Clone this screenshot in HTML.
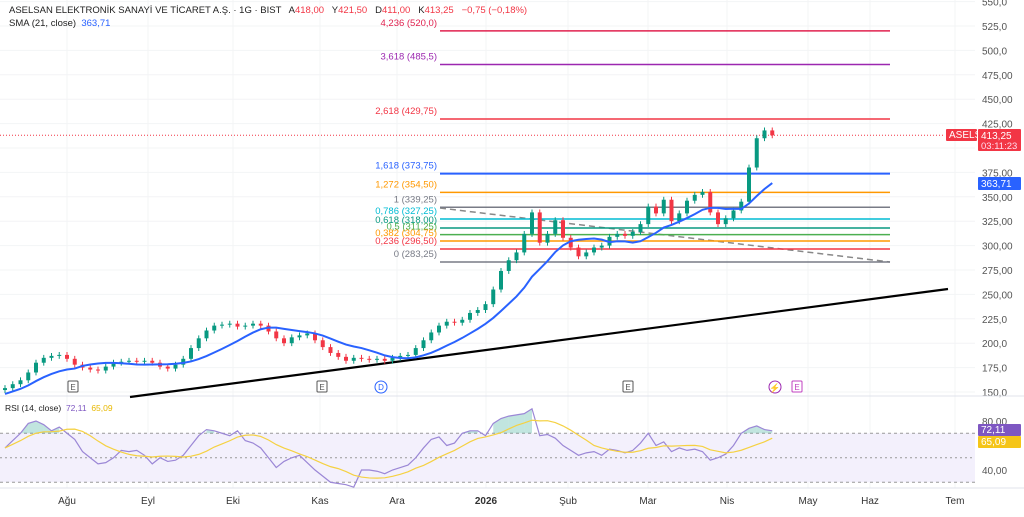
<!DOCTYPE html>
<html><head><meta charset="utf-8"><style>
body{margin:0;width:1024px;height:517px;background:#fff;overflow:hidden;font-family:"Liberation Sans",sans-serif}
svg{position:absolute;left:0;top:0}
text{font-family:"Liberation Sans",sans-serif;white-space:pre}
</style></head><body>
<svg id="c" width="1024" height="517"></svg>
<script>
const closes=[154,158,162,170,180,185,187,188,184,178,175,173,172,176,180,181,182,181,182,180,176,174,178,184,195,205,213,218,219,220,217,218,220,218,212,205,200,206,208,210,203,196,190,186,182,185,184,183,184,182,185,187,188,195,203,211,218,222,221,224,231,234,240,255,274,285,293,312,334,303,312,326,308,298,289,293,298,300,309,312,310,314,322,340,333,347,325,333,346,352,355,334,322,328,336,345,380,410,418,413];
const rsiVals=[58,64,70,78,80,77,72,75,70,65,55,50,45,46,50,56,55,56,52,45,50,47,48,52,60,68,73,72,70,68,72,64,62,58,50,42,47,50,52,46,40,35,30,29,28,26,40,40,39,37,40,42,44,50,58,65,67,60,62,70,72,72,68,78,82,84,85,86,90,68,69,66,60,56,52,54,55,52,57,56,54,56,62,70,60,63,55,58,56,57,55,48,50,53,60,70,74,76,73,72];
const fibLevels=["4,236","3,618","2,618","1,618","1,272","1","0,786","0,618","0,5","0,382","0,236","0"];
const fibPrices=[520,485.5,429.75,373.75,354.5,339.25,327.25,318,311.25,304.75,296.5,283.25];
const fibColors=["#e0224f","#9c27b0","#f23645","#2962ff","#ff9800","#787b86","#00bcd4","#089981","#4caf50","#ff9800","#f23645","#787b86"];
const priceTicks=[150,175,200,225,250,275,300,325,350,375,400,425,450,475,500,525,550];
const timeLabels=["Ağu","Eyl","Eki","Kas","Ara","2026","Şub","Mar","Nis","May","Haz","Tem"];
const timeX=[67,148,233,320,397,486,568,648,727,808,870,955];
const rsiTicks=[80,40];
const NS="http://www.w3.org/2000/svg";
const svg=document.getElementById('c');
const y=p=>392-(p-150)*0.976;
const x=i=>5+i*7.75;
const ry=v=>421+(80-v)*1.225;
function el(t,a,par){const e=document.createElementNS(NS,t);for(const k in a)e.setAttribute(k,a[k]);(par||svg).appendChild(e);return e;}
function fmt(v){return v.toFixed(2).replace('.',',');}
priceTicks.forEach(p=>{const l=el('line',{x1:0,x2:975,y1:y(p),y2:y(p),stroke:'#f3f4f6'});
if(p===400)return;
const t=el('text',{x:982,y:y(p)+4,'font-size':10,fill:'#555'});t.textContent=(p<250||p>475?p.toFixed(1):p.toFixed(2)).replace('.',',');});
timeX.forEach((tx,i)=>{const l=el('line',{x1:tx,x2:tx,y1:0,y2:488,stroke:'#f3f4f6'});
const t=el('text',{x:tx,y:504,'font-size':10,fill:'#333','text-anchor':'middle','font-weight':timeLabels[i]==='2026'?'bold':'normal'});t.textContent=timeLabels[i];});
el('line',{x1:0,x2:1024,y1:396,y2:396,stroke:'#e0e3eb'});
el('line',{x1:0,x2:1024,y1:488,y2:488,stroke:'#e0e3eb'});
const tl=el('line',{x1:130,y1:397,x2:948,y2:289,stroke:'#000','stroke-width':2.2});
const dl=el('line',{x1:440,y1:208,x2:890,y2:262,stroke:'#888','stroke-width':1.5,'stroke-dasharray':'6,4'});
fibPrices.forEach((p,i)=>{const l=el('line',{x1:440,x2:890,y1:y(p),y2:y(p),stroke:fibColors[i],'stroke-width':i==3?2:1.5});
const t=el('text',{x:437,y:y(p)-5,'font-size':9.5,fill:fibColors[i],'text-anchor':'end'});let ps=p.toFixed(2).replace('.',',');if(i<2)ps=p.toFixed(1).replace('.',',');t.textContent=fibLevels[i]+' ('+ps+')';});
el('line',{x1:0,x2:945,y1:y(closes[closes.length-1]),y2:y(closes[closes.length-1]),stroke:'#f23645','stroke-dasharray':'1,2'});
closes.forEach((c,i)=>{const o=i?closes[i-1]:c-2;const up=c>=o;const col=up?'#089981':'#f23645';
const hi=Math.max(o,c)+3,lo=Math.min(o,c)-3;
const w=el('line',{x1:x(i),x2:x(i),y1:y(hi),y2:y(lo),stroke:col});
const b=el('rect',{x:x(i)-2,y:y(Math.max(o,c)),width:4,height:Math.max(1,Math.abs(y(o)-y(c))),fill:col});});
const N=10;let pts=[];closes.forEach((c,i)=>{const s=closes.slice(Math.max(0,i-N+1),i+1);let a=s.reduce((m,v)=>m+v,0)/s.length;if(i<N)a-=(N-i)*0.6;pts.push(x(i)+','+y(a));});
const sma=el('polyline',{points:pts.join(' '),fill:'none',stroke:'#2962ff','stroke-width':2});
[[73,'E','#555'],[322,'E','#555'],[628,'E','#555'],[797,'E','#c040c0']].forEach(m=>{const r=el('rect',{x:m[0]-5,y:381,width:10,height:11,fill:'#fff',stroke:m[2],rx:1});const t=el('text',{x:m[0],y:390,'font-size':8,fill:m[2],'text-anchor':'middle'});t.textContent=m[1];});
el('circle',{cx:381,cy:387,r:6,fill:'#fff',stroke:'#2962ff'});const dt=el('text',{x:381,y:390,'font-size':8,fill:'#2962ff','text-anchor':'middle'});dt.textContent='D';
el('circle',{cx:775,cy:387,r:6,fill:'#fff',stroke:'#9c27b0'});const lt=el('text',{x:775,y:391,'font-size':9,fill:'#9c27b0','text-anchor':'middle'});lt.textContent='⚡';
el('rect',{x:0,y:ry(70),width:975,height:ry(30)-ry(70),fill:'#f3f0fc'});
[70,50,30].forEach(v=>el('line',{x1:0,x2:975,y1:ry(v),y2:ry(v),stroke:'#999','stroke-dasharray':v==50?'2,3':'3,3'}));
rsiTicks.forEach(v=>{const t=el('text',{x:982,y:ry(v)+4,'font-size':10,fill:'#555'});t.textContent=fmt(v);});
for(let i=1;i<rsiVals.length;i++){if(rsiVals[i]>70&&rsiVals[i-1]>68){el('polygon',{points:`${x(i-1)},${ry(Math.max(70,rsiVals[i-1]))} ${x(i)},${ry(rsiVals[i])} ${x(i)},${ry(70)} ${x(i-1)},${ry(70)}`,fill:'rgba(8,153,129,0.25)'});}}
const rp=rsiVals.map((v,i)=>x(i)+','+ry(v));
const rl=el('polyline',{points:rp.join(' '),fill:'none',stroke:'#9b87d6','stroke-width':1.2});
const mp=rsiVals.map((v,i)=>{const s=rsiVals.slice(Math.max(0,i-7),i+1);return x(i)+','+ry(s.reduce((a,b)=>a+b,0)/s.length);});
const ml=el('polyline',{points:mp.join(' '),fill:'none',stroke:'#f5d142','stroke-width':1.2});
function tag(px,py,w,h,bg,txt,name,ty){const r=el('rect',{x:px,y:py,width:w,height:h,fill:bg,rx:1});const t=el('text',{x:px+3,y:ty||py+h-3,'font-size':10,fill:'#fff'});t.textContent=txt;return t;}
tag(946,129,31,12,'#f23645','ASELS','symbol-tag');
tag(978,129,43,22,'#f23645','413,25','last-price-label',139);
const tt=el('text',{x:981,y:149,'font-size':9.5,fill:'#fde'});tt.textContent='03:11:23';
tag(978,177,43,13,'#2962ff','363,71','sma-price-label');
tag(978,424,43,12,'#7e57c2','72,11','rsi-value-label');
tag(978,436,43,12,'#f5c518','65,09','rsi-ma-value-label');
function txt(px,py,s,col,sz,name){const t=el('text',{x:px,y:py,'font-size':sz||9.5,fill:col});t.innerHTML=s;}
txt(9,13,'ASELSAN ELEKTRONİK SANAYİ VE TİCARET A.Ş. · 1G · BIST   A<tspan fill="#f23645">418,00</tspan>   Y<tspan fill="#f23645">421,50</tspan>   D<tspan fill="#f23645">411,00</tspan>   K<tspan fill="#f23645">413,25</tspan>   <tspan fill="#f23645">−0,75 (−0,18%)</tspan>','#222',9.5,'chart-title');
txt(9,26,'SMA (21, close)  <tspan fill="#2962ff">363,71</tspan>','#222',9.5,'sma-legend');
txt(5,411,'RSI (14, close)  <tspan fill="#7e57c2">72,11</tspan>  <tspan fill="#e8b800">65,09</tspan>','#222',8.5,'rsi-legend');
</script>
</body></html>
